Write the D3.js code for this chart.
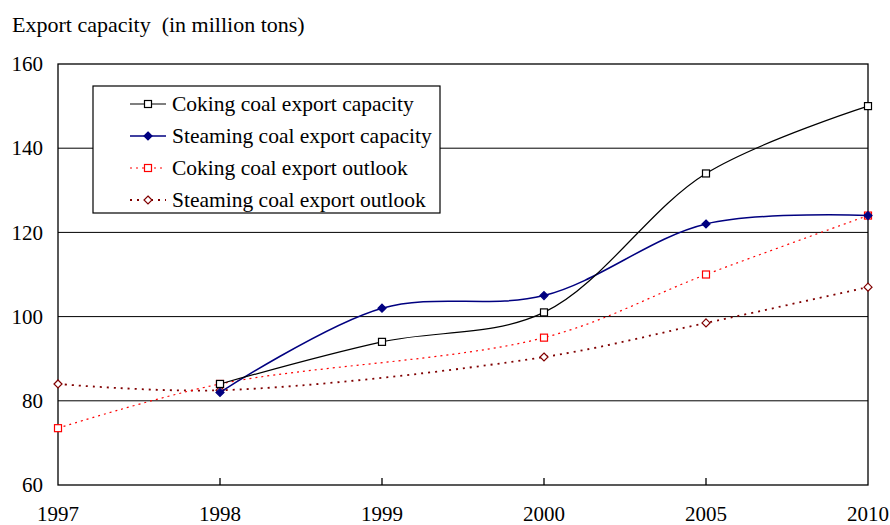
<!DOCTYPE html>
<html><head><meta charset="utf-8">
<script src="https://cdn.jsdelivr.net/npm/d3@7"></script>
<style>body{margin:0;background:#fff}svg{display:block}</style>
</head><body><svg id="c" width="890" height="525" font-family="'Liberation Serif', 'DejaVu Serif', serif"></svg>
<script>
const categories = ["1997","1998","1999","2000","2005","2010"];
const cokingCapacity = [null, 84, 94, 101, 134, 150];
const steamingCapacity = [null, 82, 102, 105, 122, 124];
const cokingOutlook = [73.5, 84, null, 95, 110, 124];
const steamingOutlook = [84, 82.5, null, 90.4, 98.5, 107];
const yTicks = [60, 80, 100, 120, 140, 160];
const seriesNames = ["Coking coal export capacity","Steaming coal export capacity","Coking coal export outlook","Steaming coal export outlook"];

const FONT = "'Liberation Serif', 'DejaVu Serif', serif";
const svg = d3.select("#c");
const L=58, R=868, T=64, B=485;
const x = d3.scalePoint().domain(categories).range([L,R]);
const y = d3.scaleLinear().domain([60,160]).range([B,T]);

svg.append("g").selectAll("line").data(yTicks.filter(d=>d>60&&d<160)).join("line")
  .attr("x1",L).attr("x2",R).attr("y1",d=>y(d)).attr("y2",d=>y(d))
  .attr("stroke","#000").attr("stroke-width",1);
svg.append("rect").attr("x",L).attr("y",T).attr("width",R-L).attr("height",B-T)
  .attr("fill","none").attr("stroke","#000").attr("stroke-width",1.3);

svg.append("g").selectAll("text").data(yTicks).join("text")
  .attr("x",43).attr("y",d=>y(d)).attr("dy","0.34em").attr("text-anchor","end")
  .style("font-family",FONT).attr("font-size",21).text(d=>d);
svg.append("g").selectAll("line").data(categories.slice(1,-1)).join("line")
  .attr("x1",d=>x(d)).attr("x2",d=>x(d)).attr("y1",B).attr("y2",B-7)
  .attr("stroke","#000").attr("stroke-width",1.3);
svg.append("g").selectAll("text").data(categories).join("text")
  .attr("x",d=>x(d)).attr("y",521).attr("text-anchor","middle")
  .style("font-family",FONT).attr("font-size",21).text(d=>d);

svg.append("text").attr("x",12).attr("y",32).style("font-family",FONT).attr("font-size",22)
  .style("white-space","pre").text("Export capacity  (in million tons)");

const styles = [
  {vals:cokingCapacity, color:"#000", width:1.2, dash:null, marker:"square", fill:"#fff"},
  {vals:steamingCapacity, color:"#000080", width:1.5, dash:null, marker:"diamond", fill:"#000080"},
  {vals:cokingOutlook, color:"#ff0000", width:1.2, dash:"2,4", marker:"square", fill:"#fff"},
  {vals:steamingOutlook, color:"#800000", width:1.8, dash:"2,5", marker:"diamond", fill:"#fff"}
];

const line = d3.line().x(d=>x(d.c)).y(d=>y(d.v)).curve(d3.curveCatmullRom.alpha(0.5));

function drawMarker(g, type, cx, cy, s){
  if(type==="square"){
    g.append("rect").attr("x",cx-3.5).attr("y",cy-3.5).attr("width",7).attr("height",7)
      .attr("fill",s.fill).attr("stroke",s.color).attr("stroke-width",1.2);
  } else {
    g.append("path").attr("d",`M${cx},${cy-4}L${cx+4},${cy}L${cx},${cy+4}L${cx-4},${cy}Z`)
      .attr("fill",s.fill).attr("stroke",s.color).attr("stroke-width",1.2);
  }
}

[3,2,1,0].forEach(i=>{
  const s = styles[i];
  const pts = categories.map((c,j)=>({c, v:s.vals[j]})).filter(d=>d.v!=null);
  svg.append("path").datum(pts).attr("d",line)
    .attr("fill","none").attr("stroke",s.color).attr("stroke-width",s.width)
    .attr("stroke-dasharray",s.dash);
  const g = svg.append("g");
  pts.forEach(p=>drawMarker(g, s.marker, x(p.c), y(p.v), s));
});

const lg = svg.append("g");
lg.append("rect").attr("x",93).attr("y",86).attr("width",347).attr("height",127)
  .attr("fill","#fff").attr("stroke","#000").attr("stroke-width",1.2);
seriesNames.forEach((n,i)=>{
  const s = styles[i];
  const ly = 104 + i*32;
  lg.append("line").attr("x1",130).attr("x2",166).attr("y1",ly).attr("y2",ly)
    .attr("stroke",s.color).attr("stroke-width",s.width).attr("stroke-dasharray",s.dash);
  drawMarker(lg, s.marker, 148, ly, s);
  lg.append("text").attr("x",172).attr("y",ly).attr("dy","0.33em")
    .style("font-family",FONT).attr("font-size",21.5).text(n);
});
</script></body></html>
